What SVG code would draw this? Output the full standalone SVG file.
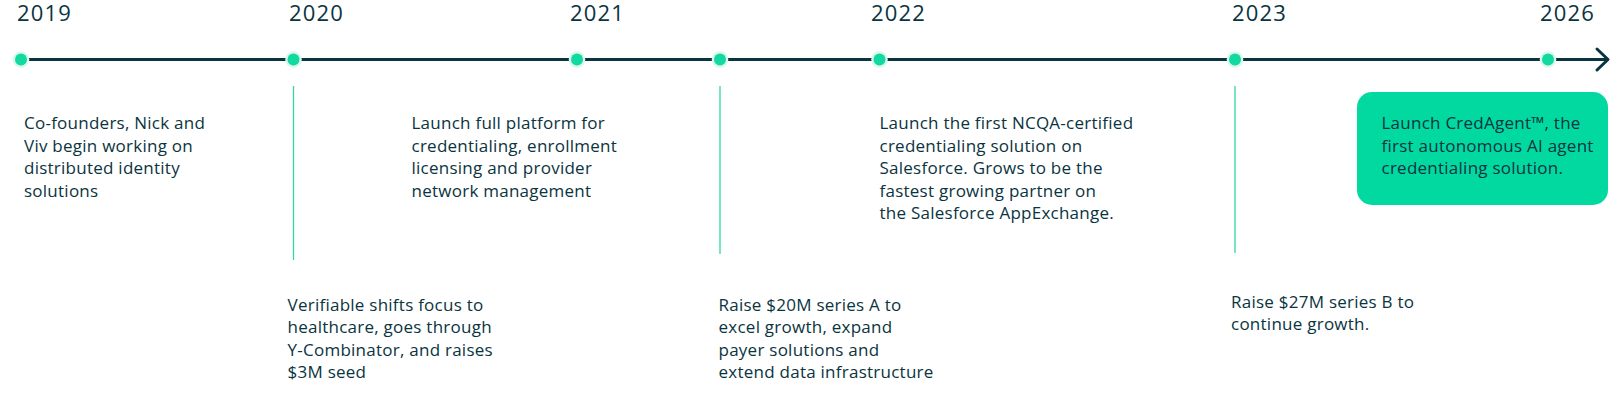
<svg xmlns="http://www.w3.org/2000/svg" width="1611" height="408" viewBox="0 0 1611 408">
<style>
.yr{font-family:"Open Sans","Liberation Sans",sans-serif;font-size:22px;letter-spacing:1.2px;font-weight:500;fill:#0a3440;}
.t{font-family:"Open Sans","Liberation Sans",sans-serif;font-size:17px;letter-spacing:0.25px;font-weight:500;fill:#0a3440;}
.halo{fill:#d9f8ec;}
.dot{fill:#12d9a0;}
.tick{stroke:#2fd8a4;stroke-width:1.3;}
.axis{stroke:#0a3440;stroke-width:3;fill:none;stroke-linecap:round;stroke-linejoin:round;}
</style>
<rect width="1611" height="408" fill="#ffffff"/>
<g id="connectors">
<line class="axis" x1="21" y1="59.5" x2="1607" y2="59.5"/>
<polyline class="axis" points="1597,49 1608,59.5 1597,70"/>
<line class="tick" x1="293.5" y1="86" x2="293.5" y2="260"/>
<line class="tick" x1="720" y1="86" x2="720" y2="254"/>
<line class="tick" x1="1235" y1="86" x2="1235" y2="253"/>
</g>
<g id="n2019">
<text class="yr" x="17" y="21">2019</text>
<circle class="halo" cx="21" cy="59.5" r="8.3"/><circle class="dot" cx="21" cy="59.5" r="6"/>
<text class="t" x="24" y="129">Co-founders, Nick and</text>
<text class="t" x="24" y="151.5">Viv begin working on</text>
<text class="t" x="24" y="174">distributed identity</text>
<text class="t" x="24" y="196.5">solutions</text>
</g>
<g id="n2020">
<text class="yr" x="289" y="21">2020</text>
<circle class="halo" cx="293.5" cy="59.5" r="8.3"/><circle class="dot" cx="293.5" cy="59.5" r="6"/>
<text class="t" x="287.5" y="310.5">Verifiable shifts focus to</text>
<text class="t" x="287.5" y="333">healthcare, goes through</text>
<text class="t" x="287.5" y="355.5">Y-Combinator, and raises</text>
<text class="t" x="287.5" y="378">$3M seed</text>
</g>
<g id="n2021">
<text class="yr" x="570" y="21">2021</text>
<circle class="halo" cx="577" cy="59.5" r="8.3"/><circle class="dot" cx="577" cy="59.5" r="6"/>
<text class="t" x="411.5" y="129">Launch full platform for</text>
<text class="t" x="411.5" y="151.5">credentialing, enrollment</text>
<text class="t" x="411.5" y="174">licensing and provider</text>
<text class="t" x="411.5" y="196.5">network management</text>
</g>
<g id="n2021b">
<circle class="halo" cx="720" cy="59.5" r="8.3"/><circle class="dot" cx="720" cy="59.5" r="6"/>
<text class="t" x="718.5" y="310.5">Raise $20M series A to</text>
<text class="t" x="718.5" y="333">excel growth, expand</text>
<text class="t" x="718.5" y="355.5">payer solutions and</text>
<text class="t" x="718.5" y="378">extend data infrastructure</text>
</g>
<g id="n2022">
<text class="yr" x="871" y="21">2022</text>
<circle class="halo" cx="879.5" cy="59.5" r="8.3"/><circle class="dot" cx="879.5" cy="59.5" r="6"/>
<text class="t" x="879.5" y="129">Launch the first NCQA-certified</text>
<text class="t" x="879.5" y="151.5">credentialing solution on</text>
<text class="t" x="879.5" y="174">Salesforce. Grows to be the</text>
<text class="t" x="879.5" y="196.5">fastest growing partner on</text>
<text class="t" x="879.5" y="219">the Salesforce AppExchange.</text>
</g>
<g id="n2023">
<text class="yr" x="1232" y="21">2023</text>
<circle class="halo" cx="1235" cy="59.5" r="8.3"/><circle class="dot" cx="1235" cy="59.5" r="6"/>
<text class="t" x="1231" y="307.5">Raise $27M series B to</text>
<text class="t" x="1231" y="330">continue growth.</text>
</g>
<g id="n2026">
<text class="yr" x="1540" y="21">2026</text>
<circle class="halo" cx="1548" cy="59.5" r="8.3"/><circle class="dot" cx="1548" cy="59.5" r="6"/>
<rect x="1357" y="92" width="251" height="113" rx="15" fill="#02d9a1"/>
<text class="t" x="1381.5" y="129">Launch CredAgent™, the</text>
<text class="t" x="1381.5" y="151.5">first autonomous AI agent</text>
<text class="t" x="1381.5" y="174">credentialing solution.</text>
</g>
</svg>
